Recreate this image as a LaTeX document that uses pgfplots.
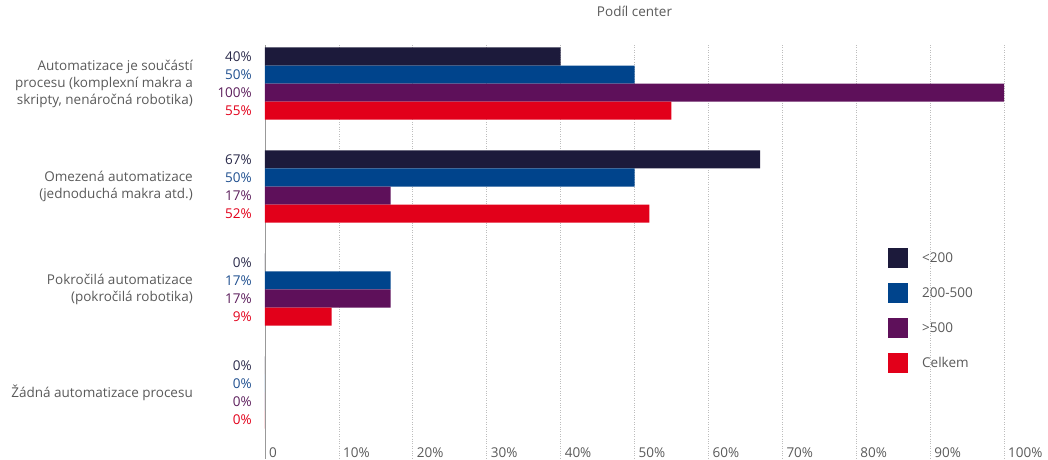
\documentclass[border=0pt]{standalone}
\usepackage{fontspec}
\setmainfont{Open Sans}
\usepackage{pgfplots}
\pgfplotsset{compat=1.18}

\definecolor{cA}{HTML}{1C1A3B}
\definecolor{cB}{HTML}{00448C}
\definecolor{cC}{HTML}{5E105A}
\definecolor{cD}{HTML}{E2001A}
\definecolor{lA}{HTML}{2B2B4B}
\definecolor{lB}{HTML}{1F4F8F}
\definecolor{lC}{HTML}{5C1E5C}
\definecolor{lD}{HTML}{E2001A}
\definecolor{txt}{HTML}{5A5A5A}
\definecolor{gridc}{HTML}{BDBDBD}

\newcommand{\fs}{\fontsize{13.5}{17}\selectfont}

\pgfplotsset{
  hbar/.style={xbar, draw=none, fill=#1},
  vlab/.style={draw=none, mark=none, forget plot, nodes near coords,
    point meta=explicit symbolic,
    nodes near coords style={anchor=east, text=#1, inner sep=0pt, xshift=-13pt, font=\fs}},
}

\begin{document}
\begin{tikzpicture}
\begin{axis}[
  at={(0,0)}, anchor=south west,
  scale only axis,
  width=739pt, height=414pt,
  xmin=0, xmax=100,
  ymin=-0.374, ymax=3.646,
  y dir=reverse,
  axis lines*=left,
  x axis line style={draw=none},
  y axis line style={draw=gray!80, line width=0.8pt},
  bar width=0.175,
  xtick={0,10,...,100},
  xticklabels={0,10\%,20\%,30\%,40\%,50\%,60\%,70\%,80\%,90\%,100\%},
  xticklabel style={anchor=base west, inner sep=0pt, xshift=4pt, yshift=2pt, text=txt},
  xmajorgrids,
  major grid style={gridc, dotted, line width=0.6pt},
  xtick style={draw=none}, ytick style={draw=none},
  ytick={0,1,2,3},
  yticklabels={{Automatizace je součástí\\procesu (komplexní makra a\\skripty, nenáročná robotika)},
               {Omezená automatizace\\(jednoduchá makra atd.)},
               {Pokročilá automatizace\\(pokročilá robotika)},
               {Žádná automatizace procesu}},
  yticklabel style={align=right, anchor=east, inner sep=0pt, xshift=-72pt, text=txt},
  tick label style={font=\fs},
  title={Podíl center},
  title style={anchor=center, at={(axis description cs:0.5,1)}, yshift=28pt, text=txt, font=\fs},
  legend style={draw=none, fill=none, inner sep=0pt, at={(axis cs:84.3,1.597)}, anchor=north west,
    font=\fs, text=txt,
    nodes={inner sep=0pt}, column sep=14pt, row sep=15pt},
  legend cell align=left,
  legend image code/.code={\fill[#1] (0pt,-10pt) rectangle (20pt,10pt);},
  clip=false,
]
\addplot[hbar=cA, bar shift=-0.2625] coordinates {(40,0) (67,1) (0,2) (0,3)};
\addlegendentry{<200}
\addplot[hbar=cB, bar shift=-0.0875] coordinates {(50,0) (50,1) (17,2) (0,3)};
\addlegendentry{200-500}
\addplot[hbar=cC, bar shift=0.0875] coordinates {(100,0) (17,1) (17,2) (0,3)};
\addlegendentry{>500}
\addplot[hbar=cD, bar shift=0.2625] coordinates {(55,0) (52,1) (9,2) (0,3)};
\addlegendentry{Celkem}

\addplot[vlab=lA] coordinates {(0,-0.2625) [40\%] (0,0.7375) [67\%] (0,1.7375) [0\%] (0,2.7375) [0\%]};
\addplot[vlab=lB] coordinates {(0,-0.0875) [50\%] (0,0.9125) [50\%] (0,1.9125) [17\%] (0,2.9125) [0\%]};
\addplot[vlab=lC] coordinates {(0,0.0875) [100\%] (0,1.0875) [17\%] (0,2.0875) [17\%] (0,3.0875) [0\%]};
\addplot[vlab=lD] coordinates {(0,0.2625) [55\%] (0,1.2625) [52\%] (0,2.2625) [9\%] (0,3.2625) [0\%]};
\end{axis}
\pgfresetboundingbox
\path[use as bounding box] (-265pt,0pt) rectangle (783pt,459pt);
\end{tikzpicture}
\end{document}
